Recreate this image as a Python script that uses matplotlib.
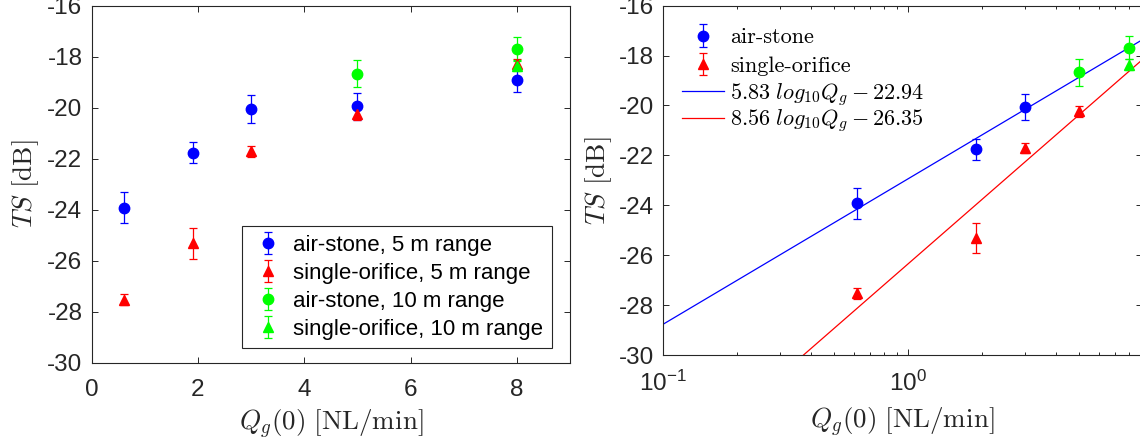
import numpy as np
import matplotlib
matplotlib.use("Agg")
import matplotlib.pyplot as plt
from matplotlib.font_manager import FontProperties
from matplotlib.ticker import FixedLocator, LogLocator, NullFormatter

# ---------------- data ----------------
q5 = [0.62, 1.9, 3.0, 5.0, 8.0]
air5 = [-23.92, -21.76, -20.06, -19.95, -18.91]
air5_err = [0.61, 0.42, 0.54, 0.53, 0.48]
orif5 = [-27.53, -25.32, -21.71, -20.24, -18.30]
orif5_err = [0.21, 0.61, 0.21, 0.23, 0.20]
q10_air = [5.0, 8.0]
air10 = [-18.66, -17.68]
air10_err = [0.54, 0.46]
q10_orif = [8.0]
orif10 = [-18.36]
orif10_err = [0.21]

fit_air = (5.83, -22.94)
fit_orif = (8.56, -26.35)

left_legend = ["air-stone, 5 m range", "single-orifice, 5 m range",
               "air-stone, 10 m range", "single-orifice, 10 m range"]
right_legend = ["air-stone", "single-orifice",
                r"$5.83\ log_{10}Q_g - 22.94$", r"$8.56\ log_{10}Q_g - 26.35$"]
xlabel = r"$Q_g(0)\ [\mathrm{NL/min}]$"
ylabel = r"$TS\ [\mathrm{dB}]$"

# ---------------- style ----------------
plt.rcParams['font.family'] = ['Liberation Sans', 'DejaVu Sans']
plt.rcParams['mathtext.fontset'] = 'custom'
plt.rcParams['mathtext.rm'] = 'Liberation Sans'
plt.rcParams['mathtext.it'] = 'Liberation Sans:italic'
plt.rcParams['axes.unicode_minus'] = False

AX_COL = '#262626'
BLUE, RED, GREEN = (0, 0, 1), (1, 0, 0), (0, 1, 0)
TICK_FS = 17.5
LABEL_FS = 19.5

fig = plt.figure(figsize=(11.4, 4.4), dpi=100)
W, H = 1140, 440

def pos(l, t, r, b):
    return [l / W, 1 - b / H, (r - l) / W, (b - t) / H]

axL = fig.add_axes(pos(91.5, 5.7, 570, 362.7))
axR = fig.add_axes(pos(663, 5.7, 1141.8, 355))

def style_axes(ax, xpad):
    for s in ax.spines.values():
        s.set_color(AX_COL)
        s.set_linewidth(0.8)
    ax.tick_params(which='both', direction='in', top=True, right=True,
                   colors=AX_COL, labelcolor=AX_COL, labelsize=TICK_FS, width=0.7)
    ax.tick_params(which='major', length=4.2)
    ax.tick_params(which='minor', length=2.2)
    ax.tick_params(axis='x', pad=xpad)
    ax.tick_params(axis='y', pad=6.5)

ebkw = dict(linestyle='none', elinewidth=0.9, capsize=3.2, capthick=0.9, markersize=7.5)

# ---------------- left panel ----------------
axL.errorbar(q5, air5, yerr=air5_err, marker='o', color=BLUE, mfc=BLUE, mec=BLUE, label=left_legend[0], **ebkw)
axL.errorbar(q5, orif5, yerr=orif5_err, marker='^', color=RED, mfc=RED, mec=RED, label=left_legend[1], **ebkw)
axL.errorbar(q10_air, air10, yerr=air10_err, marker='o', color=GREEN, mfc=GREEN, mec=GREEN, label=left_legend[2], **ebkw)
axL.errorbar(q10_orif, orif10, yerr=orif10_err, marker='^', color=GREEN, mfc=GREEN, mec=GREEN, label=left_legend[3], **ebkw)
axL.set_xlim(0, 9)
axL.set_ylim(-30, -16)
axL.set_xticks([0, 2, 4, 6, 8])
axL.set_yticks(np.arange(-30, -15, 2))
style_axes(axL, 12)
axL.set_xlabel(xlabel, fontsize=LABEL_FS, color=AX_COL, math_fontfamily='cm')
axL.set_ylabel(ylabel, fontsize=LABEL_FS, color=AX_COL, math_fontfamily='cm')
axL.xaxis.set_label_coords(0.5, -0.127)
axL.yaxis.set_label_coords(-0.1055, 0.5)

legL = axL.legend(loc='upper left', bbox_to_anchor=(0.314, 0.383), borderaxespad=0,
                  fontsize=16, frameon=True, fancybox=False, edgecolor=AX_COL,
                  framealpha=1, handlelength=1.6, handletextpad=0.32, borderpad=0.4,
                  labelspacing=0.31)
legL.get_frame().set_linewidth(0.8)

# ---------------- right panel ----------------
axR.set_xscale('log')
axR.set_xlim(0.1, 9)
axR.set_ylim(-30, -16)
xf = np.logspace(np.log10(0.1), np.log10(9), 200)
h1 = axR.errorbar(q5[:3], air5[:3], yerr=air5_err[:3], marker='o', color=BLUE, mfc=BLUE, mec=BLUE, **ebkw)
h2 = axR.errorbar(q5[:4], orif5[:4], yerr=orif5_err[:4], marker='^', color=RED, mfc=RED, mec=RED, **ebkw)
axR.errorbar(q10_air, air10, yerr=air10_err, marker='o', color=GREEN, mfc=GREEN, mec=GREEN, **ebkw)
axR.errorbar(q10_orif, orif10, yerr=orif10_err, marker='^', color=GREEN, mfc=GREEN, mec=GREEN, **ebkw)
l1, = axR.plot(xf, fit_air[0] * np.log10(xf) + fit_air[1], color=BLUE, lw=0.9)
l2, = axR.plot(xf, fit_orif[0] * np.log10(xf) + fit_orif[1], color=RED, lw=0.9)
axR.xaxis.set_major_locator(FixedLocator([0.1, 1]))
axR.xaxis.set_minor_locator(LogLocator(base=10, subs=np.arange(2, 10), numticks=20))
axR.xaxis.set_minor_formatter(NullFormatter())
axR.set_yticks(np.arange(-30, -15, 2))
style_axes(axR, 11)
axR.set_xlabel(xlabel, fontsize=LABEL_FS, color=AX_COL, math_fontfamily='cm')
axR.set_ylabel(ylabel, fontsize=LABEL_FS, color=AX_COL, math_fontfamily='cm')
axR.xaxis.set_label_coords(0.5, -0.1464)
axR.yaxis.set_label_coords(-0.102, 0.5)

rprop = FontProperties(family='cmr10', size=16, math_fontfamily='cm')
legRa = axR.legend([h1, h2], right_legend[:2], loc='center left',
                   bbox_to_anchor=(0.022, (355 - 52) / 349.3), borderaxespad=0, frameon=False,
                   prop=rprop, handlelength=1.86, handletextpad=0.3, borderpad=0.4,
                   labelspacing=0.415)
axR.add_artist(legRa)
legRb = axR.legend([l1, l2], right_legend[2:], loc='center left',
                   bbox_to_anchor=(0.022, (355 - 107.5) / 349.3), borderaxespad=0, frameon=False,
                   prop=rprop, handlelength=1.86, handletextpad=0.3, borderpad=0.4,
                   labelspacing=-0.03)

fig.savefig('out.png', dpi=100)
